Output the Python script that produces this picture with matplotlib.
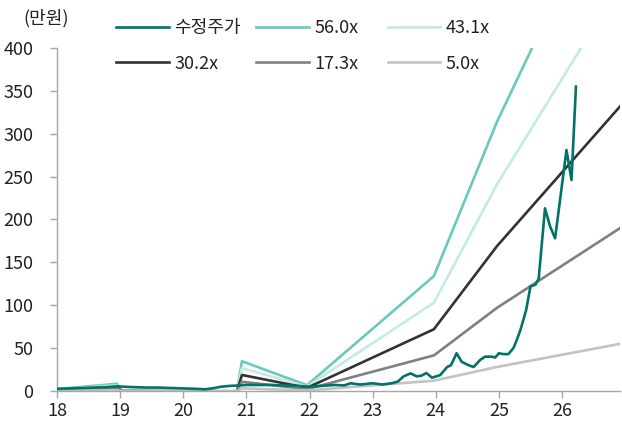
import matplotlib
matplotlib.use('Agg')
import matplotlib.pyplot as plt

plt.rcParams['font.family'] = ['Noto Sans CJK KR', 'DejaVu Sans']

# adjusted share price (10k KRW), x in fractional years (18 = 2018)
price_x = [18.0, 18.2, 18.4, 18.6, 18.8, 18.95, 19.05, 19.2, 19.4, 19.6, 19.8,
           20.0, 20.2, 20.35, 20.5, 20.6, 20.75, 20.9, 21.0, 21.2, 21.4, 21.6,
           21.8, 22.0, 22.2, 22.4, 22.55, 22.65, 22.8, 23.0, 23.15, 23.3, 23.4,
           23.49, 23.6, 23.7, 23.78, 23.85, 23.94, 24.07, 24.18, 24.24, 24.33,
           24.41, 24.52, 24.6, 24.7, 24.78, 24.89, 24.94, 25.0, 25.07, 25.15,
           25.23, 25.28, 25.34, 25.43, 25.5, 25.58, 25.63, 25.73, 25.81, 25.89,
           26.07, 26.15, 26.22]
price = [2.5, 3, 3.5, 4, 4.5, 5.5, 5, 4.5, 4, 4, 3.5,
         3, 2.5, 2, 3.5, 5, 6, 6.5, 7, 7, 7, 6.5,
         6, 5, 6, 7, 6.5, 9, 7.5, 9, 7.5, 9, 11,
         17, 20.5, 17, 18, 21, 15.5, 18.5, 28, 30, 44,
         34, 30, 28, 36, 40, 40, 39, 44, 43, 43,
         50, 59, 71, 94, 122, 124, 131, 213, 192, 178,
         281, 246, 355]

# PER band lines
band_x = [18.0, 18.95, 19.03, 20.85, 20.93, 21.96, 23.97, 24.97, 26.92]
band_56 = [2.2, 8.4, 0, -1.1, 34.7, 6.7, 134, 314, 616]
band_43 = [1.7, 6.5, 0, -0.9, 26.7, 5.2, 103, 241, 474]
band_30 = [1.2, 4.5, 0, -0.6, 18.7, 3.6, 72, 169, 332]
band_17 = [0.7, 2.6, 0, -0.3, 10.7, 2.1, 41.5, 97, 190]
band_5 = [0.2, 0.75, 0, -0.1, 3.1, 0.6, 12, 28, 55]

x_ticks = [18, 19, 20, 21, 22, 23, 24, 25, 26]
y_ticks = [0, 50, 100, 150, 200, 250, 300, 350, 400]

fig = plt.figure(figsize=(6.22, 4.23), dpi=100)
ax = fig.add_axes([0.0916, 0.0757, 0.9054, 0.8108])

lw = 1.9
l_price, = ax.plot(price_x, price, color='#00736A', lw=lw, label='수정주가', zorder=5)
l56, = ax.plot(band_x, band_56, color='#68C9BC', lw=lw, label='56.0x')
l43, = ax.plot(band_x, band_43, color='#C4EAE4', lw=lw, label='43.1x')
l30, = ax.plot(band_x, band_30, color='#333333', lw=lw, label='30.2x')
l17, = ax.plot(band_x, band_17, color='#808080', lw=lw, label='17.3x')
l5, = ax.plot(band_x, band_5, color='#C3C3C3', lw=lw, label='5.0x')

ax.set_xlim(18, 26.92)
ax.set_ylim(0, 400)
ax.set_xticks(x_ticks)
ax.set_xticklabels([str(t) for t in x_ticks])
ax.set_yticks(y_ticks)

for s in ['top', 'right']:
    ax.spines[s].set_visible(False)
for s in ['left', 'bottom']:
    ax.spines[s].set_color('#A6A6A6')
    ax.spines[s].set_linewidth(1.0)
ax.tick_params(axis='both', colors='#A6A6A6', labelcolor='#222222',
               labelsize=13, length=5, width=1.0)
ax.tick_params(axis='y', pad=12)
ax.tick_params(axis='x', pad=3)

fig.text(0.074, 0.957, '(만원)', ha='center', va='center', fontsize=13, color='#222222')

# legend in three columns, placed individually
cols = [([l_price, l30], 0.187), ([l56, l17], 0.412), ([l43, l5], 0.623)]
for handles, xpos in cols:
    leg = fig.legend(handles=handles, loc='upper left', bbox_to_anchor=(xpos, 0.955),
                     frameon=False, fontsize=13,
                     handlelength=2.9, handletextpad=0.3, labelspacing=0.97,
                     borderaxespad=0, borderpad=0)
    for t in leg.get_texts():
        t.set_color('#222222')

fig.savefig('out.png', dpi=100)
